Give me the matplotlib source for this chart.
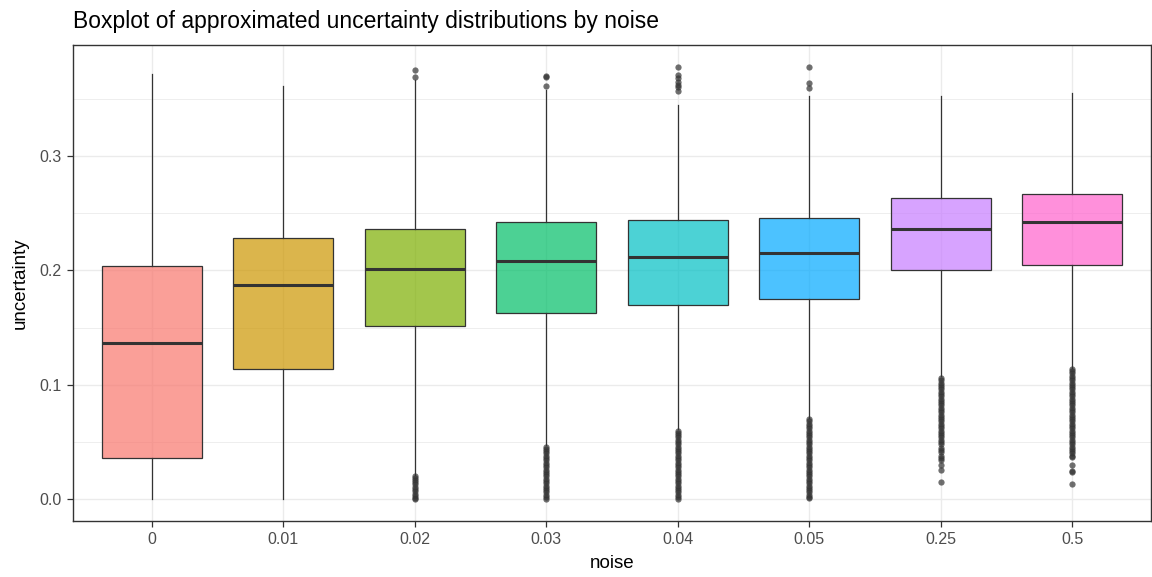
import matplotlib.pyplot as plt
import matplotlib.colors as mcolors

plt.rcParams['font.family'] = ['Liberation Sans', 'DejaVu Sans']

# noise levels and the five-number summaries of the uncertainty per level
noise = ['0', '0.01', '0.02', '0.03', '0.04', '0.05', '0.25', '0.5']
whislo = [0.000, 0.000, 0.021, 0.047, 0.061, 0.071, 0.108, 0.115]
q1 = [0.036, 0.114, 0.151, 0.163, 0.170, 0.175, 0.200, 0.205]
med = [0.137, 0.187, 0.201, 0.208, 0.212, 0.215, 0.236, 0.242]
q3 = [0.204, 0.228, 0.236, 0.242, 0.244, 0.246, 0.263, 0.267]
whishi = [0.372, 0.361, 0.366, 0.358, 0.345, 0.352, 0.352, 0.355]

# outlying observations
fliers = [
    [],
    [],
    [0.375, 0.369,
     0.020, 0.019, 0.017, 0.015, 0.013, 0.011, 0.009, 0.007, 0.005, 0.003,
     0.001, 0.000],
    [0.370, 0.369, 0.361,
     0.046, 0.044, 0.042, 0.040, 0.038, 0.036, 0.034, 0.032, 0.030, 0.028,
     0.026, 0.024, 0.022, 0.020, 0.018, 0.016, 0.014, 0.012, 0.010, 0.008,
     0.006, 0.004, 0.002, 0.000],
    [0.378, 0.371, 0.368, 0.365, 0.362, 0.360, 0.357,
     0.060, 0.058, 0.056, 0.054, 0.052, 0.050, 0.048, 0.046, 0.044, 0.042,
     0.040, 0.038, 0.036, 0.034, 0.032, 0.030, 0.028, 0.026, 0.024, 0.022,
     0.020, 0.018, 0.016, 0.014, 0.012, 0.010, 0.008, 0.006, 0.004, 0.002,
     0.000],
    [0.378, 0.364, 0.359,
     0.070, 0.068, 0.066, 0.064, 0.062, 0.060, 0.058, 0.056, 0.054, 0.052,
     0.050, 0.048, 0.046, 0.044, 0.042, 0.040, 0.038, 0.036, 0.034, 0.032,
     0.030, 0.028, 0.026, 0.024, 0.022, 0.020, 0.018, 0.016, 0.014, 0.012,
     0.010, 0.008, 0.006, 0.004, 0.002, 0.001],
    [0.106, 0.104, 0.102, 0.100, 0.098, 0.096, 0.094, 0.092, 0.090, 0.088,
     0.086, 0.084, 0.082, 0.080, 0.078, 0.076, 0.074, 0.072, 0.070, 0.068,
     0.066, 0.064, 0.062, 0.060, 0.058, 0.056, 0.054, 0.052, 0.050, 0.048,
     0.045, 0.043, 0.041, 0.038, 0.036, 0.034, 0.030, 0.026, 0.015],
    [0.114, 0.112, 0.110, 0.108, 0.106, 0.104, 0.102, 0.100, 0.098, 0.096,
     0.094, 0.092, 0.090, 0.088, 0.086, 0.084, 0.082, 0.080, 0.078, 0.076,
     0.074, 0.072, 0.070, 0.068, 0.066, 0.064, 0.062, 0.060, 0.058, 0.056,
     0.054, 0.052, 0.050, 0.048, 0.046, 0.044, 0.042, 0.040, 0.038, 0.037,
     0.030, 0.025, 0.024, 0.013],
]

colors = ['#F8766D', '#CD9600', '#7CAE00', '#00BE67',
          '#00BFC4', '#00A9FF', '#C77CFF', '#FF61CC']

stats = []
for i in range(len(noise)):
    stats.append(dict(whislo=whislo[i], q1=q1[i], med=med[i], q3=q3[i],
                      whishi=whishi[i], fliers=fliers[i], label=noise[i]))

fig = plt.figure(figsize=(11.52, 5.77), dpi=100)
ax = fig.add_axes([73 / 1152, 1 - 521 / 577, 1078 / 1152, 476 / 577])

dark = '#333333'
positions = list(range(1, len(noise) + 1))
bp = ax.bxp(stats, positions=positions, widths=0.76, patch_artist=True,
            showcaps=False,
            boxprops=dict(edgecolor=dark, linewidth=0.9),
            whiskerprops=dict(color=dark, linewidth=0.9),
            medianprops=dict(color=dark, linewidth=2.2),
            flierprops=dict(marker='o', markersize=4.5, markerfacecolor=dark,
                            markeredgecolor='none', alpha=0.7),
            zorder=3)

for box, c in zip(bp['boxes'], colors):
    box.set_facecolor(mcolors.to_rgba(c, 0.7))
    box.set_edgecolor(dark)

ax.set_xlim(0.4, len(noise) + 0.6)
ax.set_ylim(-0.019, 0.397)

ax.set_xticks(positions)
ax.set_xticklabels(noise)
ax.set_yticks([0.0, 0.1, 0.2, 0.3])
ax.set_yticklabels(['0.0', '0.1', '0.2', '0.3'])
ax.set_yticks([0.05, 0.15, 0.25, 0.35], minor=True)

ax.grid(which='major', color='#EBEBEB', linewidth=1.0, zorder=0)
ax.grid(which='minor', axis='y', color='#EBEBEB', linewidth=0.6, zorder=0)
ax.set_axisbelow(True)

for s in ax.spines.values():
    s.set_color(dark)
    s.set_linewidth(1.0)

ax.tick_params(which='major', length=4, width=0.9, color=dark,
               labelsize=11.5, labelcolor='#4D4D4D', pad=4)
ax.tick_params(which='minor', length=0)

ax.set_xlabel('noise', fontsize=13.5, color='black', labelpad=6)
ax.set_ylabel('uncertainty', fontsize=13.5, color='black', labelpad=8)
ax.set_title('Boxplot of approximated uncertainty distributions by noise',
             fontsize=16.5, loc='left', pad=12)

fig.savefig('out.png', dpi=100)
